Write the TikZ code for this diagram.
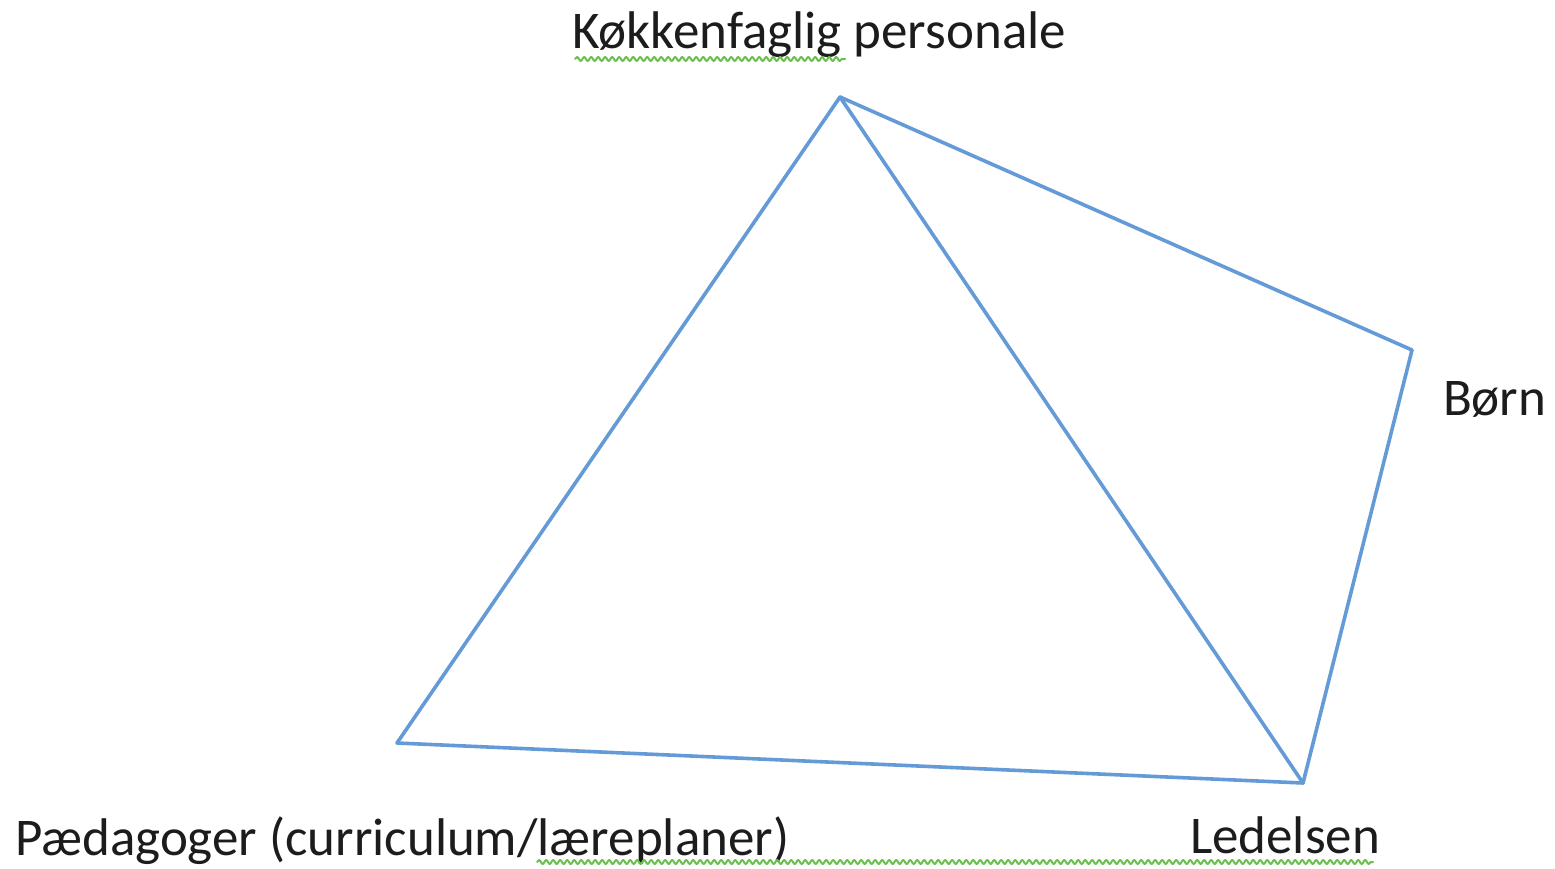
\documentclass[tikz,border=0pt]{standalone}
\usepackage{fontspec}
\setmainfont{Carlito}
\usetikzlibrary{decorations.pathmorphing}

\begin{document}
\begin{tikzpicture}[x=1pt,y=-1pt,line cap=round,line join=round]
	\definecolor{custcol_5b_9b_d5}{RGB}{100, 155, 215}
	\definecolor{custcol_6a_c0_4f}{RGB}{106, 192, 79}
	\definecolor{custcol_20_20_20}{RGB}{28, 28, 30}
	\tikzset{
		edge/.style={line width=3.6pt, custcol_5b_9b_d5},
		lbl/.style={inner sep=0, outer sep=0, custcol_20_20_20, anchor=base west, font=\fontsize{53pt}{53pt}\selectfont},
		squiggle/.style={line width=2.0pt, custcol_6a_c0_4f, decorate, decoration={snake, segment length=7pt, amplitude=2pt}}
	}
	\useasboundingbox (0,0) rectangle (1555,868);
	% corners
	\coordinate (kok) at (840.0,97.0);
	\coordinate (born) at (1412.0,350.0);
	\coordinate (led) at (1303.0,783.0);
	\coordinate (paed) at (397.0,743.0);
	% edges
	\draw [edge] (kok) -- (paed);
	\draw [edge] (kok) -- (led);
	\draw [edge] (kok) -- (born);
	\draw [edge] (born) -- (led);
	\draw [edge] (paed) -- (led);
	% labels
	\node [lbl] (kokl) at (572.0,48.0) {Køkkenfaglig personale};
	\node [lbl] (bornl) at (1443.0,415.0) {Børn};
	\node [lbl] (paedl) at (15.0,855.0) {Pædagoger (curriculum/læreplaner)};
	\node [lbl] (ledl) at (1190.0,853.0) {Ledelsen};
	% spell check marks
	\draw [squiggle] (575.0,59.0) -- (845.0,59.0);
	\draw [squiggle] (537.0,862.0) -- (1373.0,862.0);
\end{tikzpicture}
\end{document}
